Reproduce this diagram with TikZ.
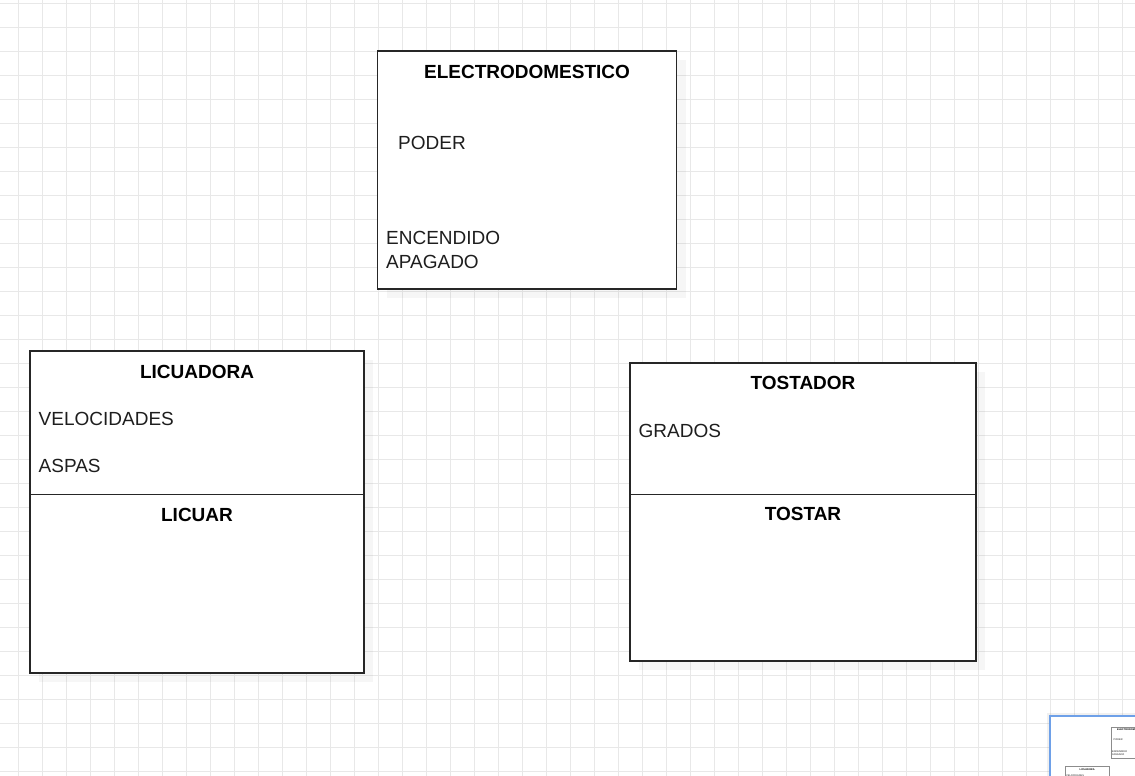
\documentclass[tikz,border=0pt]{standalone}
\usepackage{fontspec}
\setmainfont{Liberation Sans}
\usetikzlibrary{positioning,shadows}
\definecolor{gridgray}{RGB}{232,232,232}
\definecolor{mapblue} {RGB}{110,160,232}
\definecolor{textgray}{RGB}{30,30,30}
\tikzset{
  cls/.style={draw=black!85,fill=white,line width=1.2pt,
              inner sep=0pt,outer sep=0pt,
              drop shadow={shadow xshift=9pt,shadow yshift=-9pt,
              opacity=0.07}},
  clsops/.style={cls,anchor=north},
  clsname/.style={font=\fontsize{19}{24}\selectfont\bfseries,
                  text=black,inner sep=0pt},
  attr/.style={font=\fontsize{19}{24}\selectfont,text=textgray,
               inner sep=0pt,align=left},
  gridline/.style={draw=gridgray,line width=0.9pt},
  minimap/.style={draw=mapblue,fill=white,line width=1.6pt,
                  inner sep=0pt,outer sep=0pt,
                  drop shadow={shadow xshift=-3pt,shadow yshift=3pt,
                  opacity=0.12}},
  thumb/.style={draw=black!45,fill=white,line width=0.3pt,
                inner sep=0pt,outer sep=0pt},
}

\begin{document}
\begin{tikzpicture}[x=1pt,y=-1pt]
  \useasboundingbox (0,0) rectangle (1135,776);
  \clip (0,0) rectangle (1135,776);

  % Background grid
  \draw[gridline,shift={(18,3)}] (-24,-24) grid[step=24pt] (1128,780);

  % Superclass
  \node[cls,anchor=north west,minimum width=299pt,minimum height=238pt]
       (elec) at (377.5,51) {};
  \node[clsname,below=14pt of elec.north]              (elecname) {ELECTRODOMESTICO};
  \node[attr,below right=85.5pt and 20.5pt of elec.north west]  (poder) {PODER};
  \node[attr,below right=180.5pt and 8.5pt of elec.north west]  (onoff) {ENCENDIDO\\APAGADO};

  % Licuadora
  \node[cls,anchor=north west,minimum width=334pt,minimum height=143.5pt]
       (licua) at (30,351) {};
  \node[clsops,below=0pt of licua,minimum width=334pt,minimum height=178.5pt]
       (licuaops) {};
  \node[clsname,below=14pt of licua.north]             (licuaname) {LICUADORA};
  \node[attr,below right=61pt and 8.5pt of licua.north west]    (veloc) {VELOCIDADES};
  \node[attr,below right=108.5pt and 8.5pt of licua.north west] (aspas) {ASPAS};
  \node[clsname,below=14pt of licuaops.north]          (licuar) {LICUAR};

  % Tostador
  \node[cls,anchor=north west,minimum width=346pt,minimum height=131.5pt]
       (tosta) at (630,363) {};
  \node[clsops,below=0pt of tosta,minimum width=346pt,minimum height=166.5pt]
       (tostaops) {};
  \node[clsname,below=13pt of tosta.north]             (tostaname) {TOSTADOR};
  \node[attr,below right=61pt and 8.5pt of tosta.north west]    (grados) {GRADOS};
  \node[clsname,below=13pt of tostaops.north]          (tostar) {TOSTAR};

  % Outline view (bottom right)
  \node[minimap,anchor=north west,minimum width=100pt,minimum height=80pt]
       (outline) at (1050,716) {};
  \begin{scope}[shift={(1065,727)},scale=0.132,transform shape]
    \node[thumb,anchor=north west,minimum width=299pt,minimum height=238pt]
         (elecmini) at (348,0) {};
    \node[clsname,below=14pt of elecmini.north] (elecmininame) {ELECTRODOMESTICO};
    \node[attr,below right=85.5pt and 20.5pt of elecmini.north west] (podermini) {PODER};
    \node[attr,below right=180.5pt and 8.5pt of elecmini.north west] (onoffmini) {ENCENDIDO\\APAGADO};
    \node[thumb,anchor=north west,minimum width=334pt,minimum height=143.5pt]
         (licuamini) at (0,300) {};
    \node[clsname,below=14pt of licuamini.north] (licuamininame) {LICUADORA};
    \node[attr,below right=61pt and 8.5pt of licuamini.north west] (velocmini) {VELOCIDADES};
  \end{scope}
\end{tikzpicture}
\end{document}
